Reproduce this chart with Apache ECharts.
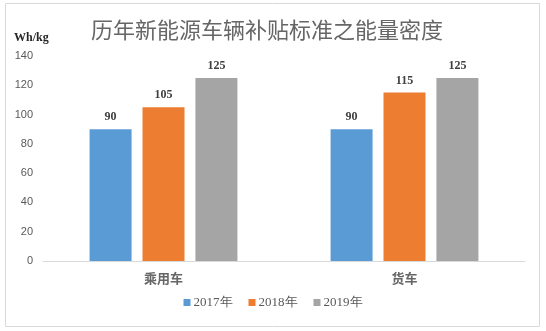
<!DOCTYPE html>
<html>
<head>
<meta charset="utf-8">
<script src="https://cdn.jsdelivr.net/npm/echarts@6/dist/echarts.min.js"></script>
<style>html,body{margin:0;padding:0;background:#fff;}#c{width:546px;height:331px;}</style>
</head>
<body>
<div id="c"></div>
<script>
const categories = ['乘用车', '货车'];
const seriesNames = ['2017年', '2018年', '2019年'];
const values2017 = [90, 90];
const values2018 = [105, 115];
const values2019 = [125, 125];
const colors = ['#5B9BD5', '#ED7D31', '#A5A5A5'];

const chart = echarts.init(document.getElementById('c'));
const labelStyle = {
  show: true, position: 'top', distance: 6,
  fontFamily: '"Liberation Serif", "Times New Roman", serif',
  fontWeight: 'bold', fontSize: 12, color: '#404040'
};
const allValues = [values2017, values2018, values2019];
chart.setOption({
  animation: false,
  title: {
    text: '历年新能源车辆补贴标准之能量密度',
    left: 262, top: 14, textAlign: 'center',
    textStyle: { fontFamily: '"Noto Sans CJK SC", sans-serif', fontWeight: 'normal', fontSize: 22, color: '#666666' }
  },
  graphic: [
    { type: 'rect', shape: { x: 5.5, y: 3.5, width: 534, height: 323 }, style: { fill: 'none', stroke: '#d9d9d9', lineWidth: 1 }, silent: true },
    { type: 'text', left: 14, top: 32, style: { text: 'Wh/kg', font: 'bold 12px "Liberation Serif", serif', fill: '#262626' } }
  ],
  legend: {
    data: seriesNames, bottom: 17, left: 'center',
    icon: 'rect', itemWidth: 7, itemHeight: 7, itemGap: 16,
    textStyle: { fontFamily: '"Liberation Serif", "Times New Roman", serif', fontSize: 13, color: '#595959', padding: [0, 0, 0, -2] }
  },
  grid: { left: 43, right: 21, top: 56, bottom: 70, containLabel: false },
  xAxis: {
    type: 'category', data: categories,
    axisLine: { lineStyle: { color: '#d9d9d9' } },
    axisTick: { show: false },
    axisLabel: { margin: 11, fontFamily: '"Noto Sans CJK SC", sans-serif', fontSize: 13, fontWeight: 'bold', color: '#666666' }
  },
  yAxis: {
    type: 'value', min: 0, max: 140, interval: 20,
    splitLine: { show: false },
    axisLine: { show: false }, axisTick: { show: false },
    axisLabel: { margin: 10, fontFamily: '"Liberation Sans", Arial, sans-serif', fontSize: 11, color: '#595959' }
  },
  series: seriesNames.map((n, i) => ({
    name: n, type: 'bar', data: allValues[i],
    barWidth: 42, barGap: '26%',
    itemStyle: { color: colors[i] },
    label: labelStyle
  }))
});
</script>
</body>
</html>
